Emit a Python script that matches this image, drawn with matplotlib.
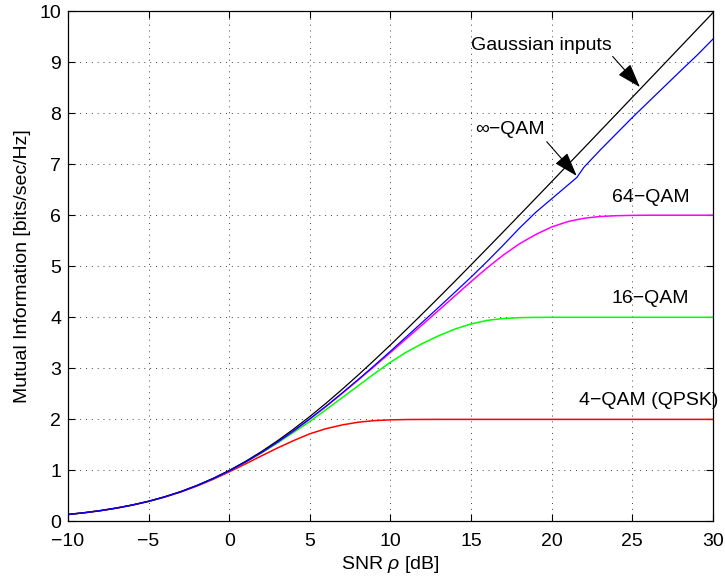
import matplotlib
matplotlib.use("Agg")
import matplotlib.pyplot as plt
import numpy as np

plt.rcParams['font.family'] = ['Liberation Sans', 'DejaVu Sans']
plt.rcParams['mathtext.fontset'] = 'custom'
plt.rcParams['mathtext.rm'] = 'Liberation Sans'
plt.rcParams['mathtext.it'] = 'Liberation Sans:italic'

# SNR grid in dB, one point per dB
snr_db = list(range(-10, 31))

# mutual information values, bits/sec/Hz
gaussian = [0.137, 0.171, 0.212, 0.263, 0.323, 0.396, 0.484, 0.586, 0.706, 0.844,
            1.000, 1.176, 1.370, 1.583, 1.812, 2.057, 2.316, 2.588, 2.870, 3.161,
            3.459, 3.765, 4.075, 4.389, 4.707, 5.028, 5.351, 5.676, 6.002, 6.330,
            6.658, 6.988, 7.317, 7.648, 7.978, 8.310, 8.641, 8.972, 9.304, 9.636, 9.967]

qam_inf_db = [-10, -9, -8, -7, -6, -5, -4, -3, -2, -1, 0, 1, 2, 3, 4, 5, 6, 7, 8, 9,
              10, 11, 12, 13, 14, 15, 16, 17, 18, 19, 20, 21, 21.56, 22, 23, 24, 25,
              26, 27, 28, 29, 30]
qam_inf = [0.137, 0.171, 0.212, 0.262, 0.323, 0.395, 0.482, 0.583, 0.703, 0.839,
           0.992, 1.164, 1.352, 1.558, 1.778, 2.012, 2.258, 2.516, 2.782, 3.056,
           3.336, 3.623, 3.910, 4.199, 4.492, 4.788, 5.096, 5.416, 5.747, 6.054,
           6.322, 6.590, 6.740, 6.940, 7.275, 7.594, 7.914, 8.220, 8.525, 8.830,
           9.130, 9.450]

qam64 = [0.137, 0.171, 0.212, 0.262, 0.323, 0.395, 0.482, 0.583, 0.703, 0.839,
         0.992, 1.163, 1.351, 1.556, 1.775, 2.008, 2.252, 2.508, 2.772, 3.040,
         3.310, 3.585, 3.860, 4.140, 4.420, 4.700, 4.970, 5.220, 5.440, 5.620,
         5.770, 5.875, 5.940, 5.975, 5.990, 5.997, 6.000, 6.000, 6.000, 6.000, 6.000]

qam16 = [0.137, 0.171, 0.212, 0.262, 0.323, 0.396, 0.483, 0.585, 0.704, 0.840,
         0.991, 1.160, 1.342, 1.538, 1.748, 1.960, 2.190, 2.425, 2.660, 2.895,
         3.120, 3.320, 3.490, 3.640, 3.770, 3.870, 3.940, 3.977, 3.993, 3.998,
         4.000, 4.000, 4.000, 4.000, 4.000, 4.000, 4.000, 4.000, 4.000, 4.000, 4.000]

qpsk = [0.137, 0.171, 0.212, 0.262, 0.322, 0.393, 0.478, 0.578, 0.694, 0.825,
        0.972, 1.127, 1.285, 1.441, 1.586, 1.718, 1.818, 1.891, 1.945, 1.976,
        1.991, 1.997, 1.999, 2.000, 2.000, 2.000, 2.000, 2.000, 2.000, 2.000,
        2.000, 2.000, 2.000, 2.000, 2.000, 2.000, 2.000, 2.000, 2.000, 2.000, 2.000]

FS = 14

fig = plt.figure(figsize=(7.25, 5.8), dpi=100)
ax = fig.add_axes([0.0938, 0.1009, 0.8896, 0.8801])

ax.plot(snr_db, qpsk, color='#ff0000', lw=1.1)
ax.plot(snr_db, qam16, color='#00ff00', lw=1.1)
ax.plot(snr_db, qam64, color='#ff00ff', lw=1.1)
ax.plot(snr_db, gaussian, color='k', lw=0.9)
ax.plot(qam_inf_db, qam_inf, color='#0000ff', lw=0.9)

ax.set_xlim(-10, 30)
ax.set_ylim(0, 10)
ax.set_xticks(np.arange(-10, 31, 5))
ax.set_yticks(np.arange(0, 11, 1))
ax.set_xticklabels(['\u2212' + str(-t) if t < 0 else str(t) for t in range(-10, 31, 5)])
ax.tick_params(direction='in', top=True, right=True, length=5, width=0.8,
               labelsize=FS)
ax.tick_params(axis='x', pad=8)
ax.tick_params(axis='y', pad=5)
ax.grid(True, color='0.25', linestyle=(0, (1, 5)), linewidth=0.7)
for sp in ax.spines.values():
    sp.set_linewidth(0.9)

ax.set_xlabel('SNR $\\rho$ [dB]', fontsize=FS, labelpad=3)
ax.set_ylabel('Mutual Information [bits/sec/Hz]', fontsize=FS, labelpad=6)

# arrows pointing from the labels to the curves
arrow = dict(arrowstyle='-|>,head_length=0.75,head_width=0.25', color='k',
             lw=0.8, mutation_scale=20, shrinkA=0, shrinkB=0)
ax.annotate('', xy=(25.47, 8.51), xytext=(23.78, 9.11), arrowprops=arrow)
ax.annotate('', xy=(21.55, 6.77), xytext=(19.69, 7.44), arrowprops=arrow)

ax.text(19.35, 9.33, 'Gaussian inputs', ha='center', va='center', fontsize=FS)
ax.text(17.4, 7.67, '\u221e\u2212QAM', ha='center', va='center', fontsize=FS)
ax.text(26.15, 6.35, '64\u2212QAM', ha='center', va='center', fontsize=FS)
ax.text(26.1, 4.37, '16\u2212QAM', ha='center', va='center', fontsize=FS)
ax.text(26.0, 2.37, '4\u2212QAM (QPSK)', ha='center', va='center', fontsize=FS)

fig.savefig('out.png', dpi=100)
